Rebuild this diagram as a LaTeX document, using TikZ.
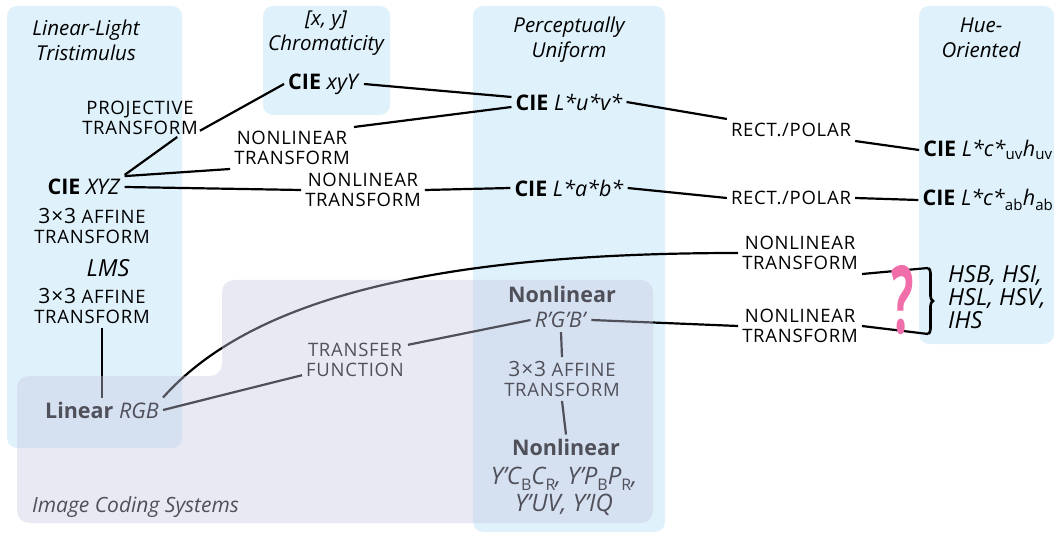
\documentclass[tikz,border=0pt]{standalone}
\usepackage{fontspec}
\setmainfont{Open Sans}
\newfontfamily\capfont{Open Sans}[LetterSpace=4]
\usepackage{tikz}
\usetikzlibrary{decorations.pathreplacing}
\definecolor{boxblue}{HTML}{DFF1FA}
\definecolor{codegray}{RGB}{200,200,225}
\definecolor{qpink}{HTML}{F06EA9}
\newcommand{\capsize}{\capfont\fontsize{18.5}{20}\selectfont}
\newcommand{\spacesize}{\fontsize{21.5}{26}\selectfont}
\newcommand{\varsize}{\fontsize{23.5}{23}\selectfont\itshape}
\newcommand{\headsize}{\fontsize{20.5}{25}\selectfont}
\newcommand{\affine}{{\fontsize{21}{20}\selectfont 3×3} AFFINE\\TRANSFORM}
\newcommand{\chsub}[1]{\raisebox{-0.25em}{\fontsize{16}{16}\selectfont\upshape #1}}

\begin{document}
\begin{tikzpicture}[x=1pt, y=-1pt,
    every node/.style={inner sep=4pt},
    hdr/.style={font=\headsize\itshape, align=center},
    spc/.style={font=\spacesize, align=center},
    var/.style={font=\varsize, align=center},
    lbl/.style={font=\capsize, align=center},
    conn/.style={line width=2.2pt},
    region/.style={fill=boxblue, rounded corners=10pt}]
  \useasboundingbox (0,0) rectangle (1054,534);

  % families of colour spaces
  \fill[region] (7,6) rectangle (182,448);
  \fill[region] (263,6) rectangle (390,115);
  \fill[region] (473,6) rectangle (665,532);
  \fill[region] (919,6) rectangle (1054,344);

  \node[hdr] (hdrlin) at (86,40) {Linear-Light\\Tristimulus};
  \node[hdr] (hdrchr) at (326,33) {[\textit{x, y}]\\Chromaticity};
  \node[hdr] (hdrper) at (569,40) {Perceptually\\Uniform};
  \node[hdr] (hdrhue) at (981,38) {Hue-\\Oriented};

  % tristimulus column
  \node[spc] (xyz) at (84,187) {\textbf{CIE} \textit{XYZ}};
  \node[lbl] (aff1) at (92,226) {\affine};
  \node[var] (lms) at (108,268) {LMS};
  \node[lbl] (aff2) at (92,306) {\affine};
  \node[spc] (lrgb) at (102,410) {\textbf{Linear} \textit{RGB}};

  % chromaticity and perceptual spaces
  \node[spc] (xyy) at (324,84) {\textbf{CIE} \textit{xyY}};
  \node[lbl, inner sep=2pt] (proj) at (140,118) {PROJECTIVE\\TRANSFORM};
  \node[lbl] (nlt0) at (292,148) {NONLINEAR\\TRANSFORM};
  \node[lbl] (nlt2) at (363,190) {NONLINEAR\\TRANSFORM};
  \node[spc] (luv) at (569,102) {\textbf{CIE} \textit{L*u*v*}};
  \node[spc] (lab) at (569,188) {\textbf{CIE} \textit{L*a*b*}};

  % hue-oriented spaces
  \node[lbl] (rp1) at (791,130) {RECT./POLAR};
  \node[lbl] (rp2) at (791,198) {RECT./POLAR};
  \node[spc] (huv) at (988,150) {\textbf{CIE} \textit{L*c*}\textsubscript{uv}\textit{h}\textsubscript{uv}};
  \node[spc] (hab) at (988,200) {\textbf{CIE} \textit{L*c*}\textsubscript{ab}\textit{h}\textsubscript{ab}};
  \node[lbl] (nlt3) at (800,253) {NONLINEAR\\TRANSFORM};
  \node[lbl] (nlt4) at (800,326) {NONLINEAR\\TRANSFORM};
  \node[var, align=left, anchor=west] (hsx) at (944,297) {HSB, HSI,\\HSL, HSV,\\IHS};
  \coordinate (brtop) at (928,268);
  \coordinate (brbot) at (928,334);

  % image coding
  \node[spc] (nlhead) at (562,294) {\textbf{Nonlinear}};
  \node[spc] (rgbp) at (561,320) {\textit{R'G'B'}};
  \node[lbl] (aff3) at (562,379) {\affine};
  \node[spc] (nlhead2) at (566,447) {\textbf{Nonlinear}};
  \node[var, font=\fontsize{24}{27}\selectfont\itshape] (ycc) at (564,491) {Y'C\chsub{B}C\chsub{R}, Y'P\chsub{B}P\chsub{R},\\Y'UV, Y'IQ};
  \node[lbl, draw=white, line width=0.4pt] (tf) at (355,360) {TRANSFER\\FUNCTION};
  \node[spc, anchor=west, font=\fontsize{21}{22}\selectfont\itshape] (ics) at (28,507) {Image Coding Systems};

  % connectors
  \draw[conn] (xyz.north east) -- (proj.-27);
  \draw[conn] (proj.-12) -- (xyy.west);
  \draw[conn] (xyz.15) -- (nlt0.south west);
  \draw[conn] (nlt0.north east) -- ([yshift=-5pt]luv.west);
  \draw[conn] (xyy.east) -- ([yshift=5pt]luv.west);
  \draw[conn] (xyz.east) -- (nlt2.west);
  \draw[conn] (nlt2.east) -- (lab.west);
  \draw[conn] (luv.east) -- (rp1.north west);
  \draw[conn] (rp1.south east) -- (huv.west);
  \draw[conn] (lab.east) -- (rp2.west);
  \draw[conn] (rp2.east) -- (hab.west);
  \draw[conn] (aff2.south -| lrgb.north) -- (lrgb.north);
  \draw[conn] (lrgb.north east) .. controls (250,300) and (430,253) .. (nlt3.west);
  \draw[conn] (nlt3.south east) -- (brtop);
  \draw[conn] (lrgb.east) -- (tf.196);
  \draw[conn] (tf.16) -- (rgbp.west);
  \draw[conn] (rgbp.east) -- (nlt4.west);
  \draw[conn] (nlt4.east) -- (brbot);
  \draw[conn] (rgbp.south) -- (aff3.north);
  \draw[conn] (aff3.south) -- (nlhead2.north);
  \draw[decorate, decoration={brace, amplitude=5pt}, line width=2.6pt] (brtop) -- (brbot);

  \node[text=qpink, font=\fontsize{94}{94}\selectfont\bfseries] (qmark) at (903,300) {\scalebox{0.5}[1]{?}};

  % image coding systems veil
  \fill[codegray, fill opacity=0.4, rounded corners=12pt]
    (17,376) -- (222,376) -- (222,280) -- (653,280) -- (653,523) -- (17,523) -- cycle;
\end{tikzpicture}
\end{document}
